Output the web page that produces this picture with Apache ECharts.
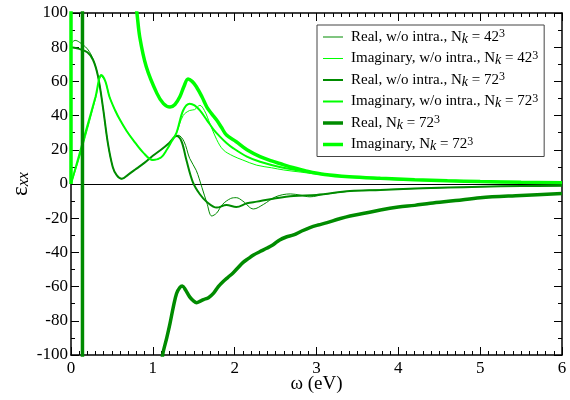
<!DOCTYPE html>
<html>
<head>
<meta charset="utf-8">
<script src="https://cdn.jsdelivr.net/npm/echarts@6/dist/echarts.min.js"></script>
<style>html,body{margin:0;padding:0;background:#fff}#c{width:570px;height:400px}</style>
</head>
<body>
<div id="c"></div>
<script>
// ---- data ----
const xTicks = [0, 1, 2, 3, 4, 5, 6];
const yTicks = [-100, -80, -60, -40, -20, 0, 20, 40, 60, 80, 100];

// Real, w/o intra., Nk = 42^3
const realNo42_w = [0,0.05,0.1,0.2,0.27,0.33,0.39,0.45,0.51,0.56,0.62,0.7,0.8,0.9,1.0,1.1,1.2,1.31,1.38,1.45,1.53,1.6,1.66,1.72,1.78,1.85,1.95,2.02,2.1,2.23,2.35,2.5,2.68,2.8,2.92,3.1,3.41,3.78,4.2,4.6,5.0,5.5,6.0];
const realNo42_e = [82,84,83,79,73,63,45,24,10,5,3,5.5,9,12.5,16.5,20,24,28.5,25,15,8,-2,-11,-18.7,-17,-12,-8.5,-8,-10,-14.6,-12,-7.5,-5.8,-6.5,-7.5,-6,-4.2,-3.4,-2.7,-2.1,-1.6,-1.2,-1];

// Imaginary, w/o intra., Nk = 42^3
const imagNo42_w = [0,0.1,0.2,0.3,0.37,0.42,0.47,0.54,0.6,0.68,0.76,0.88,1.0,1.1,1.17,1.23,1.29,1.37,1.45,1.51,1.575,1.63,1.7,1.78,1.86,1.98,2.1,2.27,2.45,2.6,2.8,3.0,3.3,3.6,4.0,4.5,5.0,5.5,6.0];
const imagNo42_e = [0,15,32,50,63,60,51,43,37.4,31,25.7,18.5,14,15.5,20,25,30,40,43,43.5,46,43,35,26,20,16.4,14,11,9.5,8.2,7,5.8,4.5,3.6,2.7,2,1.6,1.2,1];

// Real, w/o intra., Nk = 72^3
const realNo72_w = [0,0.1,0.2,0.27,0.33,0.39,0.45,0.51,0.56,0.62,0.7,0.8,0.9,1.0,1.1,1.2,1.29,1.35,1.41,1.49,1.575,1.66,1.78,1.9,2.02,2.15,2.27,2.47,2.72,3.0,3.41,3.78,4.2,4.6,5.0,5.5,6.0];
const realNo72_e = [80,79,77,72.5,63,45,24,10,5,3,5.5,9,12.5,16.5,20,24,28,25,14,1,-6,-10.5,-13.8,-12.3,-13.5,-11.3,-10.3,-8.6,-7,-6.4,-4.1,-3.5,-2.7,-2.1,-1.6,-1.2,-1];

// Imaginary, w/o intra., Nk = 72^3
const imagNo72_w = [0,0.1,0.2,0.3,0.37,0.42,0.47,0.54,0.6,0.68,0.76,0.88,1.0,1.1,1.17,1.23,1.29,1.37,1.45,1.51,1.575,1.66,1.74,1.82,1.9,1.98,2.15,2.31,2.55,2.88,3.2,3.6,4.0,4.5,5.0,5.5,6.0];
const imagNo72_e = [0,17,34,51,63.7,60,51,43,37.4,31,25.7,18.5,14,15.5,20,25,30,43,47,46,43,37.4,32,27.7,24,21,16,13,10,7.2,5,3.6,2.7,2,1.6,1.2,1];

// Real, Nk = 72^3 (with intraband term)
const real72_w = [0.14,0.1402,0.4,0.7,0.9,1.0,1.06,1.12,1.17,1.21,1.25,1.29,1.33,1.36,1.4,1.45,1.5,1.535,1.58,1.62,1.68,1.74,1.8,1.86,1.92,1.98,2.04,2.1,2.17,2.23,2.31,2.39,2.47,2.55,2.63,2.72,2.82,2.92,3.02,3.13,3.27,3.41,3.6,3.78,4.0,4.2,4.39,4.7,5.0,5.5,6.0];
const real72_e = [3000,-3000,-900,-350,-200,-150,-125,-100,-90,-81.5,-72,-64,-60.5,-59.6,-62,-66,-68.5,-69.4,-68.5,-67.6,-66.5,-64,-60,-57,-54.5,-52,-49,-46,-43.5,-41.5,-39.5,-37.6,-35.5,-32.7,-31,-29.8,-27.5,-25.5,-24,-22.6,-20.5,-18.7,-17,-15.2,-13.5,-12.5,-11.3,-9.7,-8,-6.7,-5.5];

// Imaginary, Nk = 72^3 (with intraband term)
const imag72_w = [0,0.003,0.1,0.4,0.6,0.72,0.8,0.84,0.92,1.05,1.13,1.21,1.27,1.33,1.38,1.43,1.48,1.53,1.6,1.66,1.72,1.78,1.84,1.9,2.02,2.15,2.31,2.45,2.55,2.72,2.88,3.1,3.4,3.78,4.2,4.6,5.0,5.5,6.0];
const imag72_e = [0,3000,2000,400,180,125,102,86,68.6,53,47,45,46.5,51,57,61.4,60,57,51,45,41,37.4,33,28.6,24.7,20,16,13.5,12,9.5,7.5,5.5,4.2,3.3,2.5,1.9,1.4,1.0,0.8];

const seriesNames = ['Real, w/o intra., Nk = 42^3','Imaginary, w/o intra., Nk = 42^3','Real, w/o intra., Nk = 72^3','Imaginary, w/o intra., Nk = 72^3','Real, Nk = 72^3','Imaginary, Nk = 72^3'];
const legendPre = ['Real, w/o intra., N','Imaginary, w/o intra., N','Real, w/o intra., N','Imaginary, w/o intra., N','Real, N','Imaginary, N'];
const legendNum = ['42','42','72','72','72','72'];

// ---- chart ----
const DARK = '#008b00', LIME = '#00ff00';
const FONT = 'Liberation Serif, Times New Roman, serif';
const zip = (w, e) => w.map((x, i) => [x, e[i]]);
const sets = [
  [realNo42_w, realNo42_e, DARK, 1],
  [imagNo42_w, imagNo42_e, LIME, 1],
  [realNo72_w, realNo72_e, DARK, 2],
  [imagNo72_w, imagNo72_e, LIME, 2],
  [real72_w, real72_e, DARK, 3.5],
  [imag72_w, imag72_e, LIME, 3.5]
];
const series = sets.map((s, i) => ({
  name: seriesNames[i], type: 'line', xAxisIndex: 0, yAxisIndex: 0,
  data: zip(s[0], s[1]), showSymbol: false, symbol: 'none', smooth: 0.35,
  clip: true, z: 3 + i,
  lineStyle: { color: s[2], width: s[3] }, itemStyle: { color: s[2] }
}));
series[0].markLine = {
  silent: true, symbol: 'none', label: { show: false },
  lineStyle: { color: '#000', width: 1, type: 'solid' },
  data: [{ yAxis: 0 }], z: 2
};

const axisCommon = {
  axisLine: { show: true, onZero: false, lineStyle: { color: '#000', width: 1.5 } },
  axisTick: { show: true, inside: true, length: 8, lineStyle: { color: '#000', width: 1 } },
  minorTick: { show: true, length: 4, lineStyle: { color: '#000', width: 1 } },
  splitLine: { show: false }, minorSplitLine: { show: false }
};

const legendData = seriesNames.map((n, i) => ({
  name: n,
  icon: 'path://M0,0h20v' + sets[i][3] + 'h-20z',
  itemStyle: { color: sets[i][2], borderWidth: 0 }
}));

const chart = echarts.init(document.getElementById('c'), null, { renderer: 'canvas' });
chart.setOption({
  animation: false,
  backgroundColor: '#fff',
  grid: { left: 71, right: 8, top: 13, bottom: 45, outerBoundsMode: 'none' },
  xAxis: [
    Object.assign({}, axisCommon, {
      type: 'value', min: xTicks[0], max: xTicks[xTicks.length - 1], interval: 1, position: 'bottom',
      minorTick: Object.assign({}, axisCommon.minorTick, { splitNumber: 10 }),
      axisLabel: { color: '#000', fontFamily: FONT, fontSize: 17, margin: 5 },
      name: 'ω (eV)', nameLocation: 'middle', nameGap: 20, nameMoveOverlap: false,
      nameTextStyle: { color: '#000', fontFamily: FONT, fontSize: 19 }
    }),
    Object.assign({}, axisCommon, {
      type: 'value', min: xTicks[0], max: xTicks[xTicks.length - 1], interval: 1, position: 'top',
      minorTick: Object.assign({}, axisCommon.minorTick, { splitNumber: 10 }),
      axisLabel: { show: false }
    })
  ],
  yAxis: [
    Object.assign({}, axisCommon, {
      type: 'value', min: yTicks[0], max: yTicks[yTicks.length - 1], interval: 20, position: 'left',
      minorTick: Object.assign({}, axisCommon.minorTick, { splitNumber: 2 }),
      axisLabel: { color: '#000', fontFamily: FONT, fontSize: 17, margin: 3 },
      name: '{e|ε}{s|xx}', nameLocation: 'middle', nameGap: 39, nameRotate: 90, nameMoveOverlap: false,
      nameTextStyle: {
        color: '#000', fontFamily: FONT,
        rich: {
          e: { fontSize: 23, fontFamily: FONT, color: '#000', lineHeight: 22 },
          s: { fontSize: 16, fontFamily: FONT, fontStyle: 'italic', color: '#000', lineHeight: 12, verticalAlign: 'bottom' }
        }
      }
    }),
    Object.assign({}, axisCommon, {
      type: 'value', min: yTicks[0], max: yTicks[yTicks.length - 1], interval: 20, position: 'right',
      minorTick: Object.assign({}, axisCommon.minorTick, { splitNumber: 2 }),
      axisLabel: { show: false }
    })
  ],
  legend: {
    show: true, orient: 'vertical', left: 317, top: 25,
    padding: [3, 6, 3, 6], itemGap: 3.5, itemWidth: 20, itemHeight: 10,
    symbolKeepAspect: true,
    borderColor: '#444', borderWidth: 1, backgroundColor: '#fff',
    data: legendData,
    formatter: function (name) {
      const i = seriesNames.indexOf(name);
      return '{t|' + legendPre[i] + '}{k|k}{t| = ' + legendNum[i] + '}{p|3}';
    },
    textStyle: {
      color: '#000', fontFamily: FONT, fontSize: 15, padding: [0, 0, 0, 3],
      rich: {
        t: { fontSize: 15, fontFamily: FONT, color: '#000', lineHeight: 18 },
        k: { fontSize: 14, fontFamily: FONT, fontStyle: 'italic', color: '#000', lineHeight: 10, verticalAlign: 'bottom' },
        p: { fontSize: 12, fontFamily: FONT, color: '#000', lineHeight: 10, verticalAlign: 'top' }
      }
    }
  },
  series: series
});
</script>
</body>
</html>
